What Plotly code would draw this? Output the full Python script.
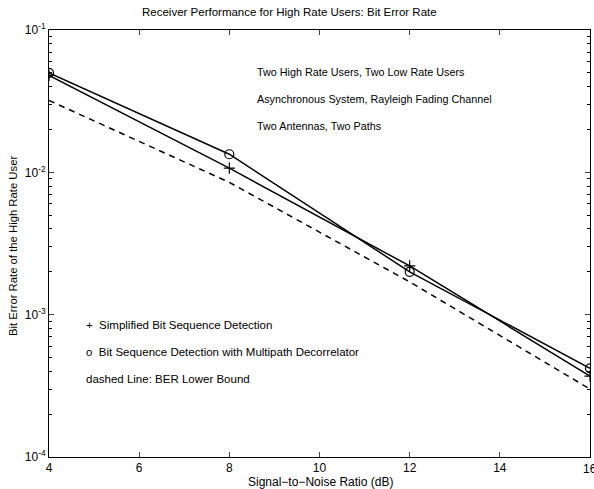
import plotly.graph_objects as go

snr = [4, 8, 12, 16]
ber_simplified = [0.048, 0.0107, 0.0022, 0.00037]
ber_decorrelator = [0.050, 0.0134, 0.0020, 0.00042]
ber_lower_bound = [0.032, 0.0085, 0.0017, 0.00030]

x_ticks = [4, 6, 8, 10, 12, 14, 16]
y_tickvals = [1e-4, 1e-3, 1e-2, 1e-1]
y_ticktext = ["10<sup>-4</sup>", "10<sup>-3</sup>", "10<sup>-2</sup>", "10<sup>-1</sup>"]
y_minor = [m * d for d in [1e-4, 1e-3, 1e-2] for m in range(2, 10)]

title = "Receiver Performance for High Rate Users: Bit Error Rate"
x_title = "Signal\u2212to\u2212Noise Ratio (dB)"
y_title = "Bit Error Rate of the High Rate User"
info_lines = ["Two High Rate Users, Two Low Rate Users",
              "Asynchronous System, Rayleigh Fading Channel",
              "Two Antennas, Two Paths"]
legend_lines = ["+  Simplified Bit Sequence Detection",
                "o  Bit Sequence Detection with Multipath Decorrelator",
                "dashed Line: BER Lower Bound"]

FONT = "Liberation Sans, Arial, sans-serif"
L, R, T, B = 49, 4, 30, 32
W, H = 594, 489
PW, PH = W - L - R, H - T - B

def px_x(px):
    return (px - L) / PW

def px_y(py):
    return (H - B - py) / PH

fig = go.Figure()
fig.add_trace(go.Scatter(x=snr, y=ber_simplified, mode="lines+markers",
                         line=dict(color="black", width=1.5),
                         marker=dict(symbol="cross-thin", size=8, color="black",
                                     line=dict(color="black", width=1.2))))
fig.add_trace(go.Scatter(x=snr, y=ber_decorrelator, mode="lines+markers",
                         line=dict(color="black", width=1.5),
                         marker=dict(symbol="circle-open", size=9, color="black",
                                     line=dict(color="black", width=1.2))))
fig.add_trace(go.Scatter(x=snr, y=ber_lower_bound, mode="lines",
                         line=dict(color="black", width=1.5, dash="6px,5px")))

for i, t in enumerate(info_lines):
    fig.add_annotation(x=px_x(255), y=px_y(72 + i * 27), xref="paper", yref="paper",
                       text=t, showarrow=False, xanchor="left", yanchor="middle",
                       font=dict(family=FONT, size=10.8, color="black"))
for i, t in enumerate(legend_lines):
    fig.add_annotation(x=px_x(84), y=px_y(325 + i * 27), xref="paper", yref="paper",
                       text=t, showarrow=False, xanchor="left", yanchor="middle",
                       font=dict(family=FONT, size=11.5, color="black"))

fig.add_annotation(x=px_x(289), y=px_y(12), xref="paper", yref="paper",
                   text=title, showarrow=False, xanchor="center", yanchor="middle",
                   font=dict(family=FONT, size=11.5, color="black"))
fig.add_annotation(x=px_x(320), y=px_y(482), xref="paper", yref="paper",
                   text=x_title, showarrow=False, xanchor="center", yanchor="middle",
                   font=dict(family=FONT, size=12, color="black"))
fig.add_annotation(x=px_x(13), y=px_y(246), xref="paper", yref="paper",
                   text=y_title, showarrow=False, xanchor="center", yanchor="middle",
                   textangle=-90,
                   font=dict(family=FONT, size=11.3, color="black"))
# last x tick label (clipped at the page edge, as in the reference)
fig.add_annotation(x=x_ticks[-1], y=px_y(469), xref="x", yref="paper",
                   text=str(x_ticks[-1]), showarrow=False, xanchor="center",
                   yanchor="middle", font=dict(family=FONT, size=12, color="black"))

fig.update_layout(
    width=W, height=H,
    margin=dict(l=L, r=R, t=T, b=B, autoexpand=False),
    paper_bgcolor="white", plot_bgcolor="white",
    showlegend=False,
    font=dict(family=FONT, size=12, color="black"),
)
fig.update_xaxes(range=[4, 16], tickvals=x_ticks[:-1], ticks="inside", ticklen=5,
                 showline=True, linecolor="black", linewidth=1, mirror="ticks",
                 showgrid=False, zeroline=False, automargin=False,
                 tickfont=dict(size=12, family=FONT))
fig.update_yaxes(type="log", range=[-4, -1], tickvals=y_tickvals, ticktext=y_ticktext,
                 ticks="inside", ticklen=5,
                 minor=dict(tickvals=y_minor, ticks="inside", ticklen=3,
                            tickcolor="black", showgrid=False),
                 showline=True, linecolor="black", linewidth=1, mirror="ticks",
                 showgrid=False, zeroline=False, automargin=False,
                 tickfont=dict(size=12, family=FONT))

fig.write_html("out.html", config={"displayModeBar": False},
               post_script="document.body.style.margin='0';document.body.style.overflow='hidden';")
